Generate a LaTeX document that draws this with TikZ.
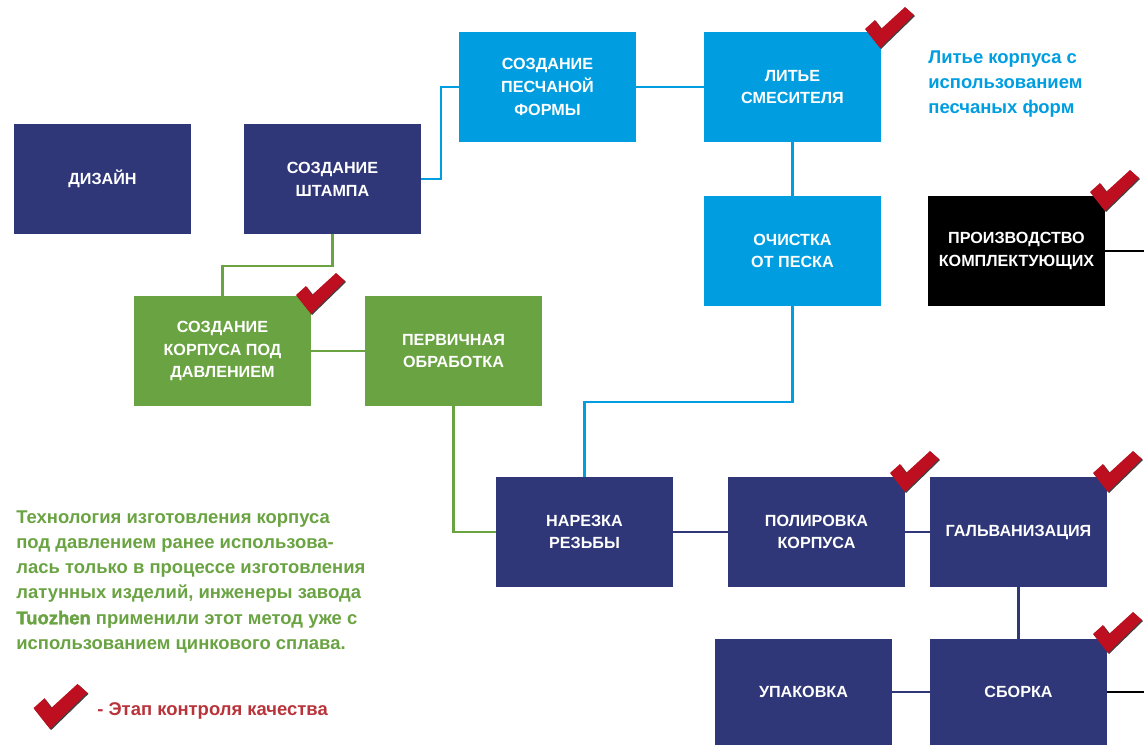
\documentclass[tikz,border=0pt]{standalone}
\usepackage{fontspec}
\setmainfont{Liberation Sans}
\definecolor{navybox}{HTML}{2F3779}
\definecolor{bluebox}{HTML}{009EE0}
\definecolor{greenbox}{HTML}{6AA342}
\definecolor{redmark}{HTML}{BE0F20}
\definecolor{redtext}{HTML}{B8333A}
\tikzset{
  stage/.style={minimum width=3.54cm, minimum height=2.2cm, inner sep=0pt, align=center, text=white,
    font=\fontsize{9.2}{13}\selectfont\bfseries},
  navystage/.style={stage, fill=navybox},
  bluestage/.style={stage, fill=bluebox},
  greenstage/.style={stage, fill=greenbox},
  blackstage/.style={stage, fill=black},
  link/.style={line width=1.2pt},
  blacklink/.style={line width=1.6pt, black},
  note/.style={inner sep=0pt, align=left, anchor=north west, font=\fontsize{10.5}{14.4}\selectfont\bfseries},
  qcheck/.pic={
    \fill[black!75] (-14,-18) -- (-4,-27) -- (3,-18) -- (26,-40) -- (35,-32) -- (1,1) -- cycle;
    \fill[redmark] (-15,-19) -- (-5,-28) -- (1,-19) -- (25,-41) -- (34,-33) -- (0,0) -- cycle;
  }
}
\begin{document}
\begin{tikzpicture}[x=0.02cm, y=-0.02cm]
  \useasboundingbox (0,0) rectangle (1144,745);

  % Boxes
  \node[navystage] (design) at (102.5,179) {ДИЗАЙН};
  \node[navystage] (stamp) at (332.5,179) {СОЗДАНИЕ\\ШТАМПА};
  \node[bluestage] (sandform) at (547.5,87) {СОЗДАНИЕ\\ПЕСЧАНОЙ\\ФОРМЫ};
  \node[bluestage] (casting) at (792.5,87) {ЛИТЬЕ\\СМЕСИТЕЛЯ};
  \node[bluestage] (cleaning) at (792.5,251) {ОЧИСТКА\\ОТ ПЕСКА};
  \node[blackstage] (parts) at (1016.5,251) {ПРОИЗВОДСТВО\\КОМПЛЕКТУЮЩИХ};
  \node[greenstage] (diecast) at (222.5,351) {СОЗДАНИЕ\\КОРПУСА ПОД\\ДАВЛЕНИЕМ};
  \node[greenstage] (primary) at (453.5,351) {ПЕРВИЧНАЯ\\ОБРАБОТКА};
  \node[navystage] (thread) at (584.5,532) {НАРЕЗКА\\РЕЗЬБЫ};
  \node[navystage] (polish) at (816.5,532) {ПОЛИРОВКА\\КОРПУСА};
  \node[navystage] (galvan) at (1018.5,532) {ГАЛЬВАНИЗАЦИЯ};
  \node[navystage, minimum height=2.12cm] (packing) at (803.5,692) {УПАКОВКА};
  \node[navystage, minimum height=2.12cm] (assembly) at (1018.5,692) {СБОРКА};
  \coordinate (partsend) at (1144,251);
  \coordinate (assemblyend) at (1144,692);

  % Links
  \draw[link, bluebox] (stamp.east) -- ++(20,0) |- (sandform.west);
  \draw[link, bluebox] (sandform) -- (casting);
  \draw[link, bluebox] (casting) -- (cleaning);
  \draw[link, bluebox] (cleaning.south) -- ++(0,96) -| (thread.north);
  \draw[link, greenbox] (stamp.south) -- ++(0,32) -| (diecast.north);
  \draw[link, greenbox] (diecast) -- (primary);
  \draw[link, greenbox] (primary.south) |- (thread.west);
  \draw[link, navybox] (thread) -- (polish);
  \draw[link, navybox] (polish) -- (galvan);
  \draw[link, navybox] (galvan) -- (assembly);
  \draw[link, navybox] (assembly) -- (packing);
  \draw[blacklink] (parts.east) -- (partsend);
  \draw[blacklink] (assembly.east) -- (assemblyend);

  % Notes
  \node[note, text=bluebox] (sandnote) at (928,50) {Литье корпуса с\\использованием\\песчаных форм};
  \node[note, text=greenbox] (dienote) at (16,510) {Технология изготовления корпуса\\под давлением ранее использова-\\лась только в процессе изготовления\\латунных изделий, инженеры завода\\{\addfontfeature{FakeBold=2}Tuozhen} применили этот метод уже с\\использованием цинкового сплава.};
  \node[note, text=redtext] (marknote) at (97,702) {- Этап контроля качества};

  % Quality marks
  \pic at (880,48) {qcheck};
  \pic at (1105,211) {qcheck};
  \pic at (311,314) {qcheck};
  \pic at (905,492) {qcheck};
  \pic at (1108,492) {qcheck};
  \pic at (1108,653) {qcheck};
  \pic[scale=1.1] at (50,729) {qcheck};
\end{tikzpicture}
\end{document}
